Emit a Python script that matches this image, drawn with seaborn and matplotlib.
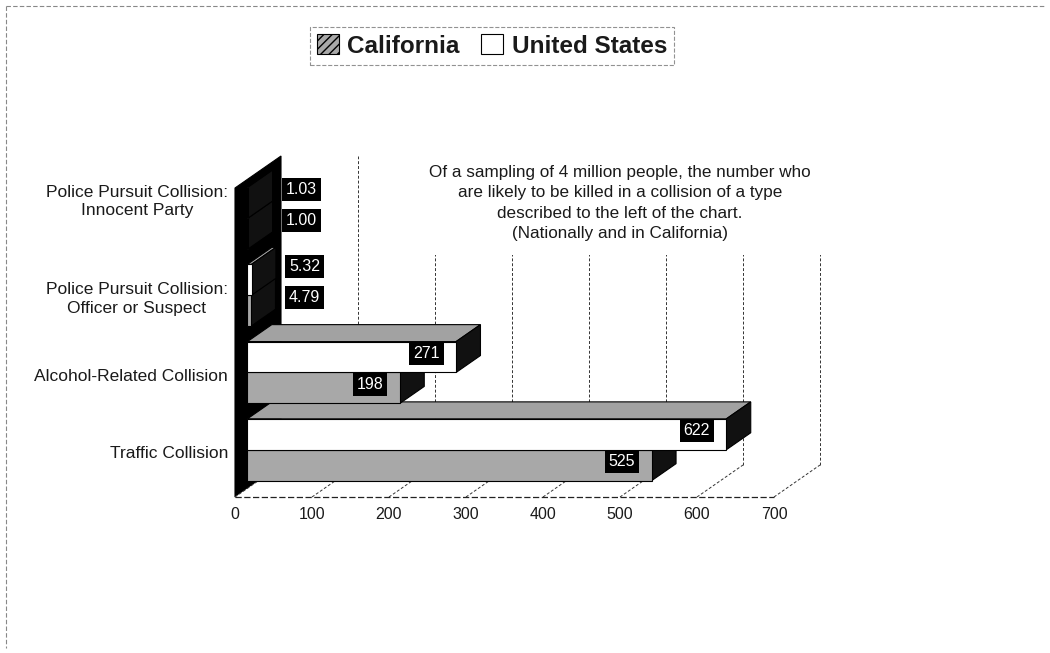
import matplotlib
matplotlib.use("Agg")
import matplotlib.pyplot as plt
import pandas as pd
import seaborn as sns
from matplotlib.patches import Polygon, Patch
from matplotlib.lines import Line2D

# ---- data -------------------------------------------------------------
categories = [
    "Police Pursuit Collision:\nInnocent Party",
    "Police Pursuit Collision:\nOfficer or Suspect",
    "Alcohol-Related Collision",
    "Traffic Collision",
]
california = [1.00, 4.79, 198, 525]
united_states = [1.03, 5.32, 271, 622]
series_names = ["California", "United States"]
x_ticks = [0, 100, 200, 300, 400, 500, 600, 700]
note_lines = [
    "Of a sampling of 4 million people, the number who",
    "are likely to be killed in a collision of a type",
    "described to the left of the chart.",
    "(Nationally and in California)",
]

# ---- style ------------------------------------------------------------
sns.set_theme(style="white")
plt.rcParams["font.family"] = ["Liberation Sans", "DejaVu Sans"]

CA_GREY = "#a8a8a8"
TOP_GREY = "#a2a2a2"
SIDE_BLACK = "#111111"
TEXT = "#1a1a1a"

W, H, DPI = 1050, 653, 100
fig = plt.figure(figsize=(W / DPI, H / DPI), dpi=DPI)
fig.patch.set_facecolor("white")

# front plane of the 3-D box, in figure pixels
left_px, right_px, top_px, bottom_px = 235, 774, 188, 497
ax = fig.add_axes([left_px / W, 1 - bottom_px / H,
                   (right_px - left_px) / W, (bottom_px - top_px) / H])
ax.set_facecolor("none")

df = pd.DataFrame({
    "category": categories * 2,
    "value": california + united_states,
    "series": [series_names[0]] * len(categories) + [series_names[1]] * len(categories),
})

sns.barplot(data=df, x="value", y="category", hue="series", order=categories,
            hue_order=[series_names[1], series_names[0]],
            palette={series_names[1]: "white", series_names[0]: CA_GREY},
            orient="h", width=0.8, errorbar=None, edgecolor="black",
            linewidth=0.8, legend=False, ax=ax)

x_max = x_ticks[-1]
ax.set_xlim(0, x_max)
ax.set_ylim(len(categories) - 0.5, -0.5)
for s in ax.spines.values():
    s.set_visible(False)
ax.set_xlabel("")
ax.set_ylabel("")

# pixel -> data conversion for the oblique depth direction
sx = (right_px - left_px) / x_max
sy = (bottom_px - top_px) / len(categories)


def depth(px_right, px_up):
    return px_right / sx, -px_up / sy


DX, DY = depth(46, 32)          # full depth of the box
F0, F1 = 0.27, 0.80             # bars sit between these depth fractions
y_lo, y_hi = ax.get_ylim()      # y_lo is the floor (bottom), y_hi the top

# left wall and floor
ax.add_patch(Polygon([(0, y_lo), (0, y_hi), (DX, y_hi + DY), (DX, y_lo + DY)],
                     closed=True, fc="black", ec="black", lw=0.8,
                     zorder=1, clip_on=False))
ax.add_patch(Polygon([(0, y_lo), (x_max, y_lo), (x_max + DX, y_lo + DY), (DX, y_lo + DY)],
                     closed=True, fc="white", ec="none", zorder=1.5, clip_on=False))

grid_kw = dict(color="#333333", lw=0.7, ls=(0, (3, 2)), zorder=2, clip_on=False)
for v in x_ticks:
    ax.add_line(Line2D([v, v + DX], [y_lo, y_lo + DY], **grid_kw))
    if v > 0:
        ax.add_line(Line2D([v + DX, v + DX], [y_lo + DY, y_hi + DY], **grid_kw))
ax.add_line(Line2D([0, x_max], [y_lo, y_lo], color="#222222", lw=0.9,
                   ls=(0, (5, 2)), zorder=2, clip_on=False))

# extrude each bar into a 3-D block
fx, fy = DX * F0, DY * F0
ex, ey = DX * (F1 - F0), DY * (F1 - F0)
bar_info = []
for p in list(ax.patches):
    if not hasattr(p, "get_width") or p.get_height() == 0:
        continue
    x0, y0, w, h = p.get_x(), p.get_y(), p.get_width(), p.get_height()
    if w <= 0:
        continue
    yc = y0 + h / 2
    bar_info.append((w, yc))
    base = 10 - yc
    p.set_x(x0 + fx)
    p.set_y(y0 + fy)
    p.set_zorder(base + 0.2)
    p.set_clip_on(False)
    xa, xb = x0 + fx, x0 + w + fx
    yt, yb = y0 + fy, y0 + h + fy
    ax.add_patch(Polygon([(xa, yt), (xb, yt), (xb + ex, yt + ey), (xa + ex, yt + ey)],
                         closed=True, fc=TOP_GREY, ec="black", lw=0.8,
                         zorder=base + 0.1, clip_on=False))
    ax.add_patch(Polygon([(xb, yt), (xb, yb), (xb + ex, yb + ey), (xb + ex, yt + ey)],
                         closed=True, fc=SIDE_BLACK, ec="black", lw=0.8,
                         zorder=base + 0.1, clip_on=False))

# value labels: black boxes with white numbers
for w, yc in bar_info:
    txt = f"{w:.2f}" if w < 10 else f"{w:.0f}"
    if w * sx < 60:
        offset, ha = (50, 22), "left"
    else:
        offset, ha = (-4, 12), "right"
    ax.annotate(txt, xy=(w, yc), xytext=offset, textcoords="offset pixels",
                ha=ha, va="center", color="white", fontsize=11.5,
                bbox=dict(boxstyle="square,pad=0.25", fc="black", ec="none"),
                zorder=30, annotation_clip=False)

# category labels on the left
ax.set_yticks([])
label_nudge = {0: 20}
for i, cat in enumerate(categories):
    ax.annotate(cat, xy=(0, i), xycoords=("axes fraction", "data"),
                xytext=(-7, 5 + label_nudge.get(i, 0)), textcoords="offset pixels",
                ha="right", va="center", multialignment="center",
                fontsize=12.5, color=TEXT, linespacing=1.3, annotation_clip=False)

# value axis
ax.set_xticks(x_ticks)
ax.set_xticklabels([str(t) for t in x_ticks])
ax.tick_params(axis="x", length=0, pad=7, labelsize=11.5, labelcolor=TEXT)

# explanatory note with a white backing box
ax.text(620 / W, 1 - 203 / H, "\n".join(note_lines), transform=fig.transFigure,
        ha="center", va="center", multialignment="center", fontsize=12.3,
        color=TEXT, linespacing=1.45, zorder=3,
        bbox=dict(boxstyle="square,pad=0.8", fc="white", ec="none"))

# legend
handles = [Patch(fc=CA_GREY, ec="black", hatch="////", lw=0.8),
           Patch(fc="white", ec="black", lw=0.8)]
leg = fig.legend(handles, series_names, loc="center",
                 bbox_to_anchor=(492 / W, 1 - 46 / H), ncol=2, frameon=True,
                 prop=dict(weight="bold", size=17.5), handlelength=0.9,
                 handleheight=0.9, handletextpad=0.35, columnspacing=0.9,
                 borderpad=0.3, fancybox=False, edgecolor="#777777")
leg.get_frame().set_linestyle("--")
leg.get_frame().set_linewidth(0.8)
for t in leg.get_texts():
    t.set_color(TEXT)

# chart-area border (top and left)
border_kw = dict(color="#888888", lw=0.8, ls=(0, (4, 2)), transform=fig.transFigure)
fig.add_artist(Line2D([6 / W, 1045 / W], [1 - 6 / H, 1 - 6 / H], **border_kw))
fig.add_artist(Line2D([6 / W, 6 / W], [1 - 6 / H, 1 - 648 / H], **border_kw))

fig.savefig("out.png", dpi=DPI, facecolor="white")
